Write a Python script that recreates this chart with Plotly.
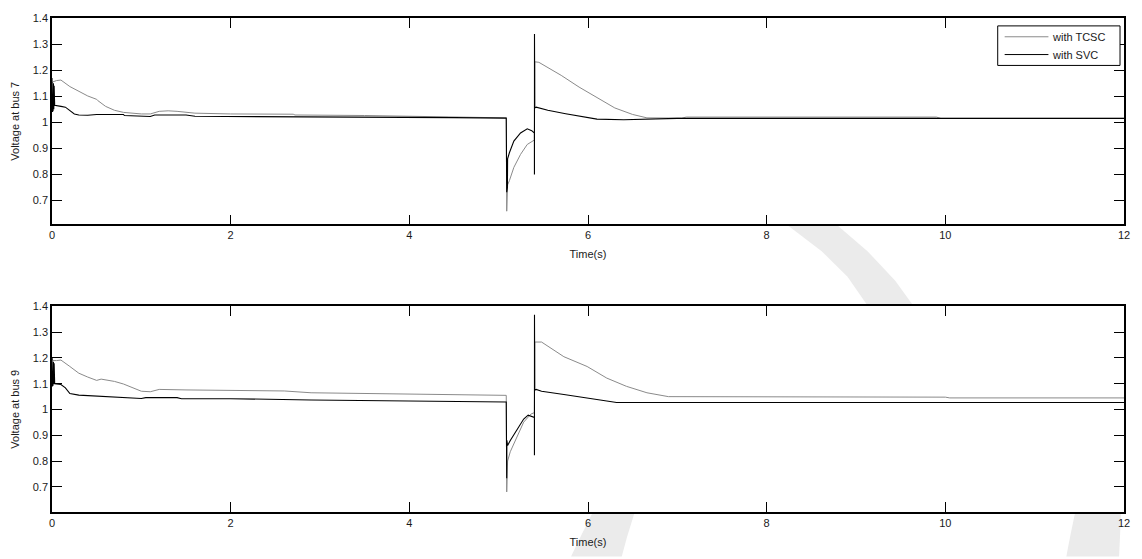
import plotly.graph_objects as go
from plotly.subplots import make_subplots

# ---------------- data ----------------
# Voltage at bus 7 - with TCSC
t7_tcsc = [0, 0.01, 0.05, 0.1, 0.2, 0.3, 0.4, 0.5, 0.51, 0.6, 0.7, 0.8, 1.0, 1.1, 1.2, 1.3, 1.4, 1.6, 2.0, 2.7,
           2.72, 3.5, 4.0, 4.5, 4.8, 5.085, 5.09, 5.095, 5.10, 5.12, 5.17, 5.245, 5.32, 5.40, 5.405, 5.45, 5.54,
           5.7, 5.9, 6.1, 6.3, 6.5, 6.66, 7.05, 7.1, 9.9, 9.95, 12]
v7_tcsc = [1.15, 1.155, 1.16, 1.162, 1.137, 1.118, 1.101, 1.088, 1.084, 1.061, 1.046, 1.038, 1.032, 1.032, 1.042,
           1.044, 1.042, 1.035, 1.032, 1.031, 1.028, 1.026, 1.024, 1.022, 1.02, 1.017, 0.659, 0.75, 0.76, 0.776,
           0.827, 0.877, 0.915, 0.932, 1.232, 1.23, 1.213, 1.18, 1.135, 1.095, 1.055, 1.03, 1.017, 1.016, 1.02,
           1.02, 1.015, 1.015]

# Voltage at bus 7 - with SVC
t7_svc = [0, 0.004, 0.008, 0.012, 0.016, 0.02, 0.024, 0.03, 0.05, 0.1, 0.15, 0.2, 0.25, 0.3, 0.4, 0.5, 0.8, 0.81,
          1.0, 1.1, 1.15, 1.5, 1.6, 2.8, 3.5, 4.5, 5.085, 5.09, 5.092, 5.094, 5.096, 5.098, 5.10, 5.12, 5.17,
          5.245, 5.32, 5.37, 5.40, 5.4005, 5.401, 5.4015, 5.402, 5.4025, 5.403, 5.404, 5.42, 5.55, 5.75, 5.91,
          6.1, 6.4, 6.65, 7.0, 12]
v7_svc = [1.17, 1.04, 1.16, 1.045, 1.15, 1.05, 1.14, 1.065, 1.063, 1.061, 1.058, 1.044, 1.032, 1.028, 1.027,
          1.030, 1.030, 1.026, 1.023, 1.022, 1.028, 1.028, 1.023, 1.022, 1.02, 1.018, 1.016, 0.732, 0.89, 0.74,
          0.87, 0.75, 0.86, 0.883, 0.928, 0.959, 0.975, 0.968, 0.959, 0.80, 1.339, 1.05, 1.232, 1.05, 1.22,
          1.055, 1.058, 1.046, 1.033, 1.023, 1.012, 1.010, 1.013, 1.015, 1.015]

# Voltage at bus 9 - with TCSC
t9_tcsc = [0, 0.01, 0.05, 0.1, 0.2, 0.3, 0.4, 0.5, 0.55, 0.7, 0.8, 0.9, 1.0, 1.1, 1.2, 1.5, 2.0, 2.6, 2.9, 3.5,
           4.2, 5.085, 5.09, 5.095, 5.10, 5.13, 5.21, 5.28, 5.36, 5.40, 5.405, 5.48, 5.73, 5.99, 6.21, 6.43, 6.66,
           6.9, 10.0, 10.05, 12]
v9_tcsc = [1.20, 1.19, 1.19, 1.192, 1.167, 1.141, 1.126, 1.113, 1.118, 1.109, 1.099, 1.084, 1.071, 1.069, 1.078,
           1.076, 1.074, 1.072, 1.065, 1.062, 1.058, 1.055, 0.680, 0.77, 0.80, 0.836, 0.894, 0.951, 0.982, 0.988,
           1.262, 1.262, 1.205, 1.167, 1.122, 1.09, 1.065, 1.05, 1.048, 1.045, 1.045]

# Voltage at bus 9 - with SVC
t9_svc = [0, 0.004, 0.008, 0.012, 0.016, 0.02, 0.024, 0.03, 0.05, 0.1, 0.15, 0.2, 0.3, 0.5, 0.7, 1.0, 1.05, 1.4,
          1.45, 2.0, 2.9, 4.0, 5.085, 5.09, 5.092, 5.094, 5.096, 5.098, 5.10, 5.13, 5.21, 5.28, 5.33, 5.40,
          5.4005, 5.401, 5.4015, 5.402, 5.4025, 5.403, 5.404, 5.42, 5.48, 5.73, 5.99, 6.21, 6.32, 12]
v9_svc = [1.20, 1.09, 1.19, 1.095, 1.185, 1.10, 1.18, 1.10, 1.099, 1.097, 1.084, 1.062, 1.056, 1.052, 1.048,
          1.043, 1.046, 1.046, 1.042, 1.042, 1.037, 1.033, 1.029, 0.733, 0.88, 0.745, 0.87, 0.76, 0.86, 0.88,
          0.925, 0.963, 0.978, 0.969, 0.822, 1.368, 1.07, 1.262, 1.07, 1.25, 1.075, 1.078, 1.071, 1.058, 1.046,
          1.033, 1.027, 1.027]

x_ticks = [0, 2, 4, 6, 8, 10, 12]
y_ticks = [0.7, 0.8, 0.9, 1.0, 1.1, 1.2, 1.3, 1.4]
y_ticktext = ["0.7", "0.8", "0.9", "1", "1.1", "1.2", "1.3", "1.4"]
series_names = ["with TCSC", "with SVC"]
y_titles = ["Voltage at bus 7", "Voltage at bus 9"]
x_title = "Time(s)"

# ---------------- figure ----------------
W, H = 1142, 559
ML, MR, MT, MB = 52, 12, 14, 45
GRAY = "#8a8a8a"
BLACK = "#000000"
TXT = "#1a1a1a"
FONT = "Liberation Sans, Arial, sans-serif"


def px(x):
    return (x - ML) / (W - ML - MR)


def py(y):
    return (H - MB - y) / (H - MT - MB)


fig = make_subplots(rows=2, cols=1)

fig.add_trace(go.Scatter(x=t7_tcsc, y=v7_tcsc, mode="lines", name=series_names[0], showlegend=False,
                         line=dict(color=GRAY, width=1)), row=1, col=1)
fig.add_trace(go.Scatter(x=t7_svc, y=v7_svc, mode="lines", name=series_names[1], showlegend=False,
                         line=dict(color=BLACK, width=1.1)), row=1, col=1)
fig.add_trace(go.Scatter(x=t9_tcsc, y=v9_tcsc, mode="lines", name=series_names[0], showlegend=False,
                         line=dict(color=GRAY, width=1)), row=2, col=1)
fig.add_trace(go.Scatter(x=t9_svc, y=v9_svc, mode="lines", name=series_names[1], showlegend=False,
                         line=dict(color=BLACK, width=1.1)), row=2, col=1)

axis_common = dict(showline=True, linecolor="black", linewidth=1.5, mirror="ticks",
                   ticks="inside", ticklen=10, tickwidth=1, tickcolor="black",
                   showgrid=False, zeroline=False,
                   tickfont=dict(family=FONT, size=11, color=TXT))


# light-grey watermark swooshes of the source page (decoration, only visible outside the axes)
def band(points):
    d = "M " + " L ".join(f"{px(x):.4f},{py(y):.4f}" for x, y in points) + " Z"
    return dict(type="path", path=d, xref="paper", yref="paper", layer="below",
                fillcolor="#ebebeb", line=dict(width=0))


shapes = [
    band([(574, 559), (584, 538), (596, 514), (638, 514), (630, 540), (625, 559)]),
    band([(1072, 559), (1076, 538), (1081, 514), (1127, 514), (1126, 538), (1125, 559)]),
    band([(792, 224), (842, 224), (872, 250), (900, 280), (918, 305), (872, 305), (852, 276), (826, 250)]),
]

# legend box drawn like the reference (box, line samples, labels)
shapes.append(dict(type="rect", xref="paper", yref="paper", x0=px(1003), x1=px(1126), y0=py(62), y1=py(22),
                   line=dict(color="black", width=1), fillcolor="white", layer="above"))
legend_rows = [(series_names[0], GRAY, 33), (series_names[1], BLACK, 51)]
annotations = []
for name, col, yy in legend_rows:
    shapes.append(dict(type="line", xref="paper", yref="paper", x0=px(1010), x1=px(1054), y0=py(yy), y1=py(yy),
                       line=dict(color=col, width=1), layer="above"))
    annotations.append(dict(text=name, xref="paper", yref="paper", x=px(1056), y=py(yy), xanchor="left",
                            yanchor="middle", showarrow=False, font=dict(family=FONT, size=11, color=TXT)))

fig.update_layout(
    width=W, height=H,
    margin=dict(l=ML, r=MR, t=MT, b=MB),
    paper_bgcolor="white", plot_bgcolor="white",
    font=dict(family=FONT, size=11, color=TXT),
    showlegend=False,
    shapes=shapes,
    annotations=annotations,
    xaxis=dict(domain=[0, 1], anchor="y", range=[0, 12], tickvals=x_ticks,
               title=dict(text=x_title, standoff=10, font=dict(size=11)), **axis_common),
    yaxis=dict(domain=[0.582, 1.0], anchor="x", range=[0.608, 1.4], tickvals=y_ticks, ticktext=y_ticktext,
               title=dict(text=y_titles[0], standoff=11, font=dict(size=11)), **axis_common),
    xaxis2=dict(domain=[0, 1], anchor="y2", range=[0, 12], tickvals=x_ticks,
                title=dict(text=x_title, standoff=10, font=dict(size=11)), **axis_common),
    yaxis2=dict(domain=[0.0, 0.416], anchor="x2", range=[0.602, 1.4], tickvals=y_ticks, ticktext=y_ticktext,
                title=dict(text=y_titles[1], standoff=11, font=dict(size=11)), **axis_common),
)

fig.write_html("out.html")
